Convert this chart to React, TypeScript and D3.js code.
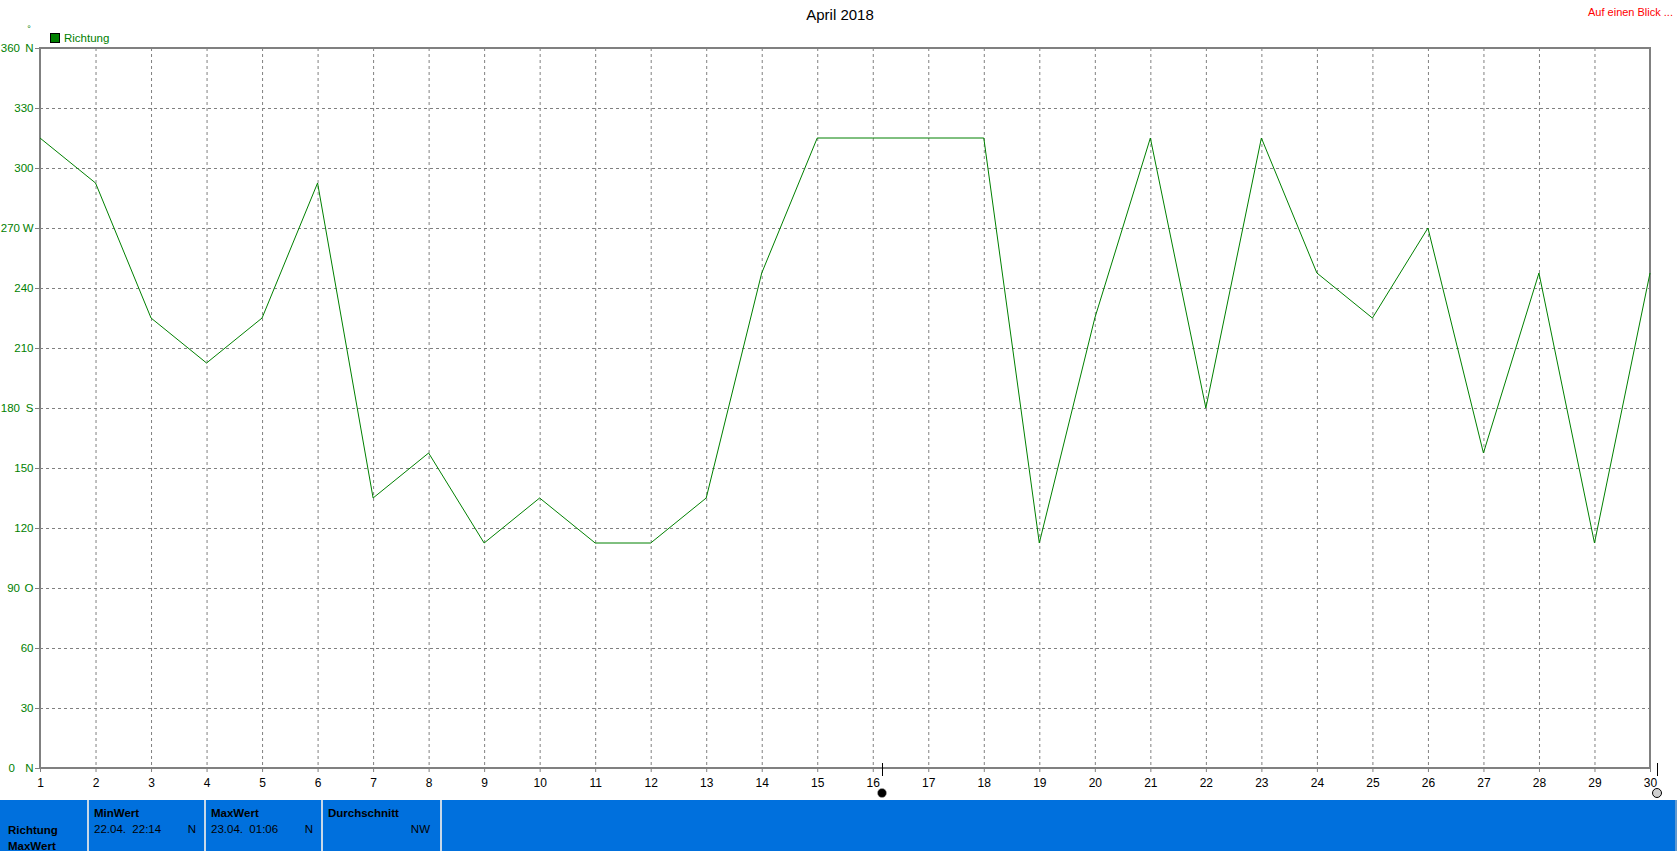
import React from "react";
import * as d3 from "d3";

const days: number[] = Array.from({ length: 30 }, (_, i) => i + 1);
const richtung: number[] = [
  315, 292.5, 225, 202.5, 225, 292.5, 135, 157.5, 112.5, 135,
  112.5, 112.5, 135, 247.5, 315, 315, 315, 315, 112.5, 225,
  315, 180, 315, 247.5, 225, 270, 157.5, 247.5, 112.5, 247.5,
];
const yTicks: number[] = [0, 30, 60, 90, 120, 150, 180, 210, 240, 270, 300, 330, 360];
const yLetters: Record<number, string> = { 0: "N", 90: "O", 180: "S", 270: "W", 360: "N" };
const title = "April 2018";
const seriesName = "Richtung";
const infoCols = [
  { head: "MinWert", date: "22.04.  22:14", val: "N" },
  { head: "MaxWert", date: "23.04.  01:06", val: "N" },
  { head: "Durchschnitt", date: "", val: "NW" },
];

const W = 1677;
const H = 851;
const L = 40, R = 1650, T = 48, B = 768;
const FONT = "'Liberation Sans', Arial, sans-serif";

export default function App() {
  const x = d3.scaleLinear().domain([1, 30]).range([L, R]);
  const y = d3.scaleLinear().domain([0, 360]).range([B, T]);
  const line = d3.line<number>().x((_, i) => x(days[i])).y((d) => y(d));
  const colX = [88, 205, 322];
  const colW = 117;

  return (
    <div style={{ position: "fixed", left: 0, top: 0 }}>
      <svg width={W} height={H} style={{ display: "block", fontFamily: FONT }}>
        <rect x={0} y={0} width={W} height={H} fill="#fff" />
        {/* grid */}
        {days.slice(1, -1).map((d) => (
          <line key={"vx" + d} x1={x(d) + 0.5} x2={x(d) + 0.5} y1={T} y2={B}
            stroke="#808080" strokeDasharray="3,3" />
        ))}
        {yTicks.slice(1, -1).map((v) => (
          <line key={"hy" + v} x1={L} x2={R} y1={y(v) + 0.5} y2={y(v) + 0.5}
            stroke="#808080" strokeDasharray="3,3" />
        ))}
        {/* frame */}
        <rect x={L} y={T} width={R - L} height={B - T} fill="none" stroke="#808080" strokeWidth={2} />
        {/* y ticks & labels */}
        {yTicks.map((v) => (
          <g key={"yt" + v}>
            <line x1={35} x2={L} y1={y(v) + 0.5} y2={y(v) + 0.5} stroke="#808080" />
            {yLetters[v] !== undefined ? (
              <>
                <text x={v === 0 ? 15 : 20} y={y(v) + 4} textAnchor="end" fontSize={11.5} fill="#008000">{v}</text>
                <text x={33.5} y={y(v) + 4} textAnchor="end" fontSize={11.5} fill="#008000">{yLetters[v]}</text>
              </>
            ) : (
              <text x={33.5} y={y(v) + 4} textAnchor="end" fontSize={11.5} fill="#008000">{v}</text>
            )}
          </g>
        ))}
        {/* x ticks & labels */}
        {days.map((d) => (
          <g key={"xt" + d}>
            <line x1={x(d) + 0.5} x2={x(d) + 0.5} y1={B} y2={B + 4} stroke="#808080" />
            <text x={x(d) + 0.5} y={787} textAnchor="middle" fontSize={12} fill="#000">{d}</text>
          </g>
        ))}
        {/* series */}
        <path d={line(richtung) || ""} fill="none" stroke="#008000" strokeWidth={1} />
        {/* title */}
        <text x={840} y={20} textAnchor="middle" fontSize={15} fill="#000">{title}</text>
        <text x={1673} y={16} textAnchor="end" fontSize={11} fill="#ff0000">Auf einen Blick ...</text>
        {/* legend */}
        <text x={29} y={32} textAnchor="middle" fontSize={9} fill="#008000">°</text>
        <rect x={50.5} y={33.5} width={9} height={9} fill="#008000" stroke="#000" />
        <text x={64} y={42} fontSize={11.5} fill="#008000">{seriesName}</text>
        {/* scroll markers */}
        <line x1={882.5} x2={882.5} y1={763} y2={776} stroke="#000" />
        <circle cx={882} cy={793} r={4.5} fill="#000" stroke="#aaa" strokeWidth={0.5} />
        <line x1={1657.5} x2={1657.5} y1={763} y2={776} stroke="#000" />
        <circle cx={1657} cy={793} r={4.5} fill="#d0d0d0" stroke="#000" strokeWidth={1} />
        {/* info panel */}
        <rect x={0} y={800} width={W} height={51} fill="#0070dd" />
        <line x1={1676} x2={1676} y1={800} y2={851} stroke="#c0c0c0" strokeWidth={1} />
        {[88, 205, 322, 441].map((sx) => (
          <rect key={"sep" + sx} x={sx - 1} y={800} width={2} height={51} fill="#c8d8e8" />
        ))}
        <text x={8} y={834} fontSize={11.5} fontWeight="bold" fill="#000">{seriesName}</text>
        <text x={8} y={850} fontSize={11.5} fontWeight="bold" fill="#000">MaxWert</text>
        {infoCols.map((c, i) => (
          <g key={"col" + i}>
            <text x={colX[i] + 6} y={817} fontSize={11.5} fontWeight="bold" fill="#000">{c.head}</text>
            {c.date ? <text x={colX[i] + 6} y={833} fontSize={11.5} fill="#000" style={{ whiteSpace: "pre" }}>{c.date}</text> : null}
            <text x={colX[i] + colW - 9} y={833} textAnchor="end" fontSize={11.5} fill="#000">{c.val}</text>
          </g>
        ))}
      </svg>
    </div>
  );
}
